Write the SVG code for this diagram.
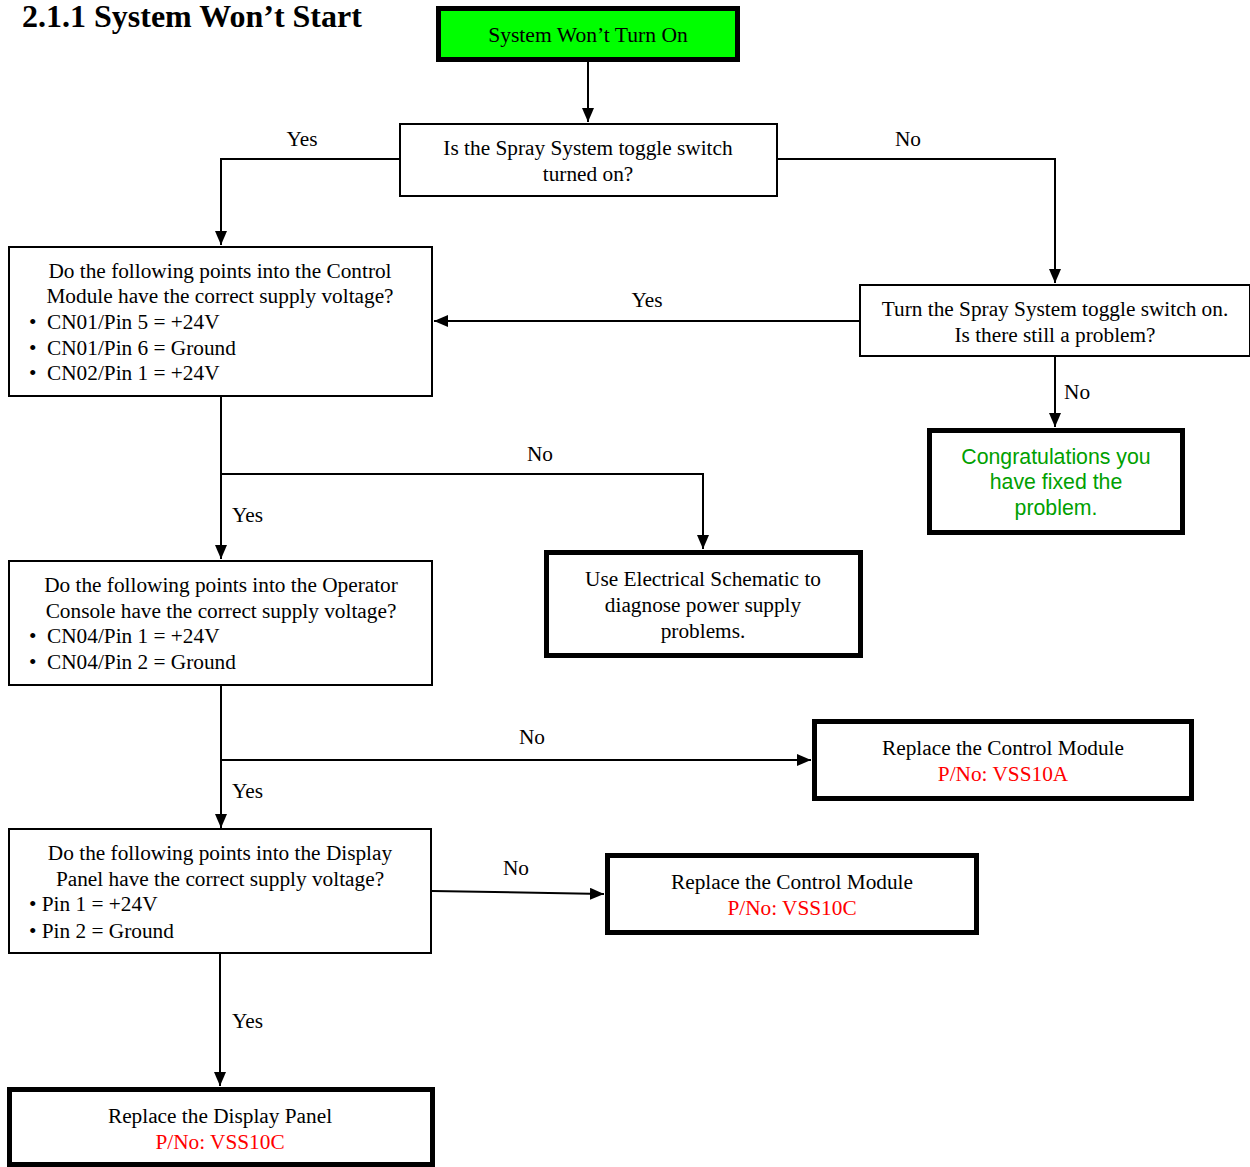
<svg xmlns="http://www.w3.org/2000/svg" width="1250" height="1167" viewBox="0 0 1250 1167">
<style>
text{font-family:"Liberation Serif","Times New Roman",serif;font-size:21.3px;fill:#000}
.c{text-anchor:middle}
.title{font-size:32px;font-weight:bold}
.g{font-family:"Liberation Sans",Arial,sans-serif;fill:#00a000}
.r{fill:#ff0000}
.thin{fill:#fff;stroke:#000;stroke-width:2}
.thick{fill:#fff;stroke:#000;stroke-width:5}
.line{fill:none;stroke:#000;stroke-width:2}
</style>
<defs>
<marker id="a" viewBox="0 0 14 12" refX="14" refY="6" markerWidth="14" markerHeight="12" markerUnits="userSpaceOnUse" orient="auto">
<path d="M0,0 L14,6 L0,12 z" fill="#000"/>
</marker>
</defs>
<text class="title" x="22" y="27">2.1.1 System Won’t Start</text>
<g id="connectors">
<path class="line" d="M588,61 V122" marker-end="url(#a)"/>
<path class="line" d="M400,159 H221 V245" marker-end="url(#a)"/>
<path class="line" d="M777,159 H1055 V283" marker-end="url(#a)"/>
<path class="line" d="M860,321 H434" marker-end="url(#a)"/>
<path class="line" d="M1055,357 V427" marker-end="url(#a)"/>
<path class="line" d="M221,397 V559" marker-end="url(#a)"/>
<path class="line" d="M221,474 H703 V549" marker-end="url(#a)"/>
<path class="line" d="M221,686 V828" marker-end="url(#a)"/>
<path class="line" d="M221,760 H811" marker-end="url(#a)"/>
<path class="line" d="M432,891 L604,894" marker-end="url(#a)"/>
<path class="line" d="M220,954 V1086" marker-end="url(#a)"/>
<text class="c" x="302" y="146">Yes</text>
<text class="c" x="908" y="146">No</text>
<text class="c" x="647" y="307">Yes</text>
<text x="1064" y="399">No</text>
<text class="c" x="540" y="461">No</text>
<text x="232" y="522">Yes</text>
<text class="c" x="532" y="744">No</text>
<text x="232" y="798">Yes</text>
<text class="c" x="516" y="875">No</text>
<text x="232" y="1028">Yes</text>
</g>
<g id="start">
<rect x="438.5" y="8.5" width="299" height="51" fill="#00ff00" stroke="#000" stroke-width="5"/>
<text class="c" x="588" y="42" style="font-size:21.6px">System Won’t Turn On</text>
</g>
<g id="q-toggle">
<rect class="thin" x="400" y="124" width="377" height="72"/>
<text class="c" x="588" y="155">Is the Spray System toggle switch</text>
<text class="c" x="588" y="181">turned on?</text>
</g>
<g id="q-control">
<rect class="thin" x="9" y="247" width="423" height="149"/>
<text class="c" x="220" y="278">Do the following points into the Control</text>
<text class="c" x="220" y="303">Module have the correct supply voltage?</text>
<text x="29" y="329">•</text><text x="47" y="329">CN01/Pin 5 = +24V</text>
<text x="29" y="355">•</text><text x="47" y="355">CN01/Pin 6 = Ground</text>
<text x="29" y="380">•</text><text x="47" y="380">CN02/Pin 1 = +24V</text>
</g>
<g id="turn-on">
<rect class="thin" x="860" y="285" width="390" height="71"/>
<text class="c" x="1055" y="316">Turn the Spray System toggle switch on.</text>
<text class="c" x="1055" y="342">Is there still a problem?</text>
</g>
<g id="congrats">
<rect class="thick" x="929.5" y="430.5" width="253" height="102"/>
<text class="c g" x="1056" y="464">Congratulations you</text>
<text class="c g" x="1056" y="489">have fixed the</text>
<text class="c g" x="1056" y="515">problem.</text>
</g>
<g id="schematic">
<rect class="thick" x="546.5" y="552.5" width="314" height="103"/>
<text class="c" x="703" y="586">Use Electrical Schematic to</text>
<text class="c" x="703" y="612">diagnose power supply</text>
<text class="c" x="703" y="638">problems.</text>
</g>
<g id="q-console">
<rect class="thin" x="9" y="561" width="423" height="124"/>
<text class="c" x="221" y="592">Do the following points into the Operator</text>
<text class="c" x="221" y="618">Console have the correct supply voltage?</text>
<text x="29" y="643">•</text><text x="47" y="643">CN04/Pin 1 = +24V</text>
<text x="29" y="669">•</text><text x="47" y="669">CN04/Pin 2 = Ground</text>
</g>
<g id="replace-cm-a">
<rect class="thick" x="814.5" y="721.5" width="377" height="77"/>
<text class="c" x="1003" y="755">Replace the Control Module</text>
<text class="c r" x="1003" y="781">P/No: VSS10A</text>
</g>
<g id="q-display">
<rect class="thin" x="9" y="829" width="422" height="124"/>
<text class="c" x="220" y="860">Do the following points into the Display</text>
<text class="c" x="220" y="886">Panel have the correct supply voltage?</text>
<text x="29" y="911">• Pin 1 = +24V</text>
<text x="29" y="938">• Pin 2 = Ground</text>
</g>
<g id="replace-cm-c">
<rect class="thick" x="607.5" y="855.5" width="369" height="77"/>
<text class="c" x="792" y="889">Replace the Control Module</text>
<text class="c r" x="792" y="915">P/No: VSS10C</text>
</g>
<g id="replace-dp">
<rect class="thick" x="9.5" y="1089.5" width="423" height="75"/>
<text class="c" x="220" y="1123">Replace the Display Panel</text>
<text class="c r" x="220" y="1149">P/No: VSS10C</text>
</g>
</svg>
